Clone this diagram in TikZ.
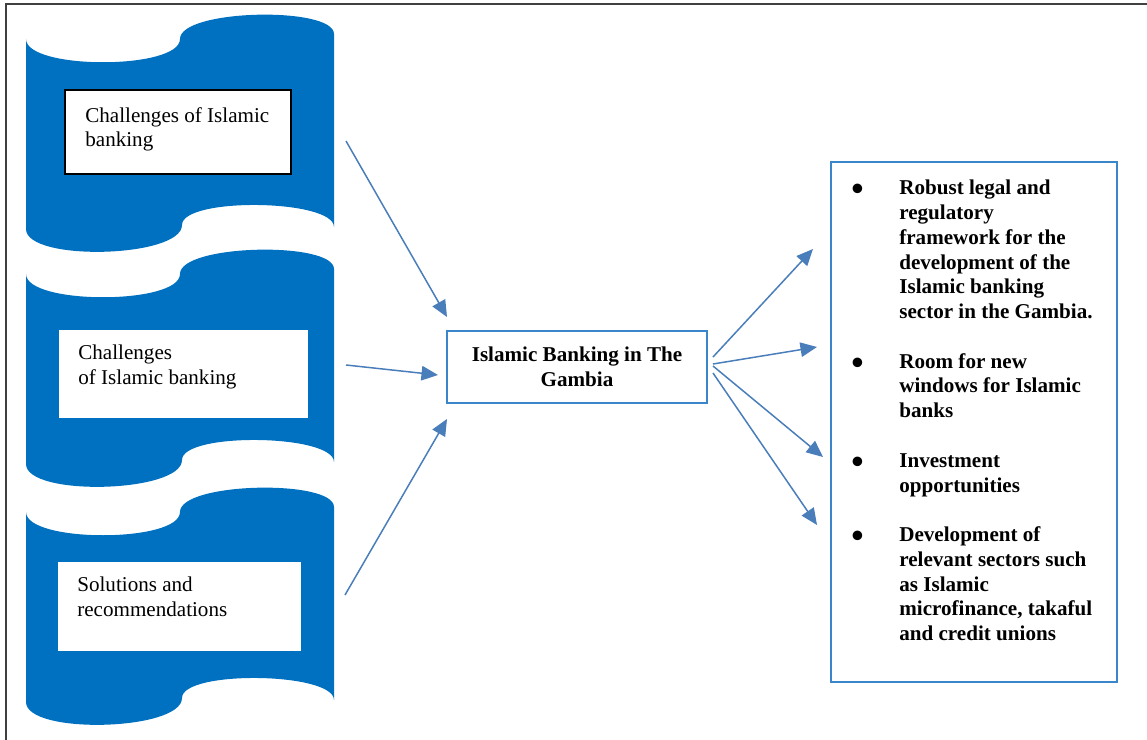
\documentclass[tikz,border=0pt]{standalone}
\usepackage{fontspec}
\setmainfont{Liberation Serif}
\usetikzlibrary{arrows.meta}
\definecolor{tapeblue}{HTML}{0070C0}
\definecolor{linkblue}{HTML}{4A7EBB}
\definecolor{edgeblue}{HTML}{3B86CB}
\definecolor{framegray}{HTML}{404040}
\newcommand{\txtfont}{\fontsize{12}{14}\selectfont}
\newcommand{\bigdot}{\smash{\raisebox{-3.5pt}{\fontsize{20}{14}\selectfont\textbullet}}}
\tikzset{
  tape/.style={fill=tapeblue,draw=none},
  wbox/.style={fill=white,inner sep=0pt},
  ltxt/.style={anchor=north west,inner sep=0pt,align=left,font=\txtfont},
  hubbox/.style={draw=edgeblue,fill=white,line width=0.8pt,inner sep=0pt,
    minimum width=5.2cm,minimum height=1.44cm,align=center,font=\txtfont\bfseries},
  outbox/.style={draw=edgeblue,fill=white,line width=0.8pt,inner sep=0pt,
    minimum width=5.72cm,minimum height=10.4cm},
  arr/.style={-{Triangle[length=3.3mm,width=2.9mm]},line width=0.85pt,draw=linkblue,fill=linkblue},
  frame/.style={draw=framegray,line width=1.1pt},
}
\begin{document}
\begin{tikzpicture}[x=0.2mm,y=-0.2mm]
  \useasboundingbox (0,0) rectangle (1147,740);
  \draw[frame] (6,745) -- (6,4) -- (1152,4);
  % the three blue tapes
  \foreach \ty in {39,274,512}{
    \fill[tape] (26,\ty) .. controls (26,\ty+31) and (180,\ty+31) .. (180,\ty)
      .. controls (180,\ty-30) and (334,\ty-33) .. (334,\ty-5)
      -- (334,\ty+188) .. controls (334,\ty+160) and (182,\ty+158) .. (182,\ty+186)
      .. controls (182,\ty+219) and (26,\ty+223) .. (26,\ty+190) -- cycle;
  }
  \node[wbox,draw=black,line width=0.6pt,minimum width=4.52cm,minimum height=1.68cm] (ch1) at (178,132) {};
  \node[ltxt] (ch1t) at (85,107) {Challenges of Islamic\\banking};
  \node[wbox,minimum width=4.98cm,minimum height=1.76cm] (ch2) at (183.5,374) {};
  \node[ltxt] (ch2t) at (78,345) {Challenges\\of Islamic banking};
  \node[wbox,minimum width=4.86cm,minimum height=1.78cm] (sol) at (179.5,606.5) {};
  \node[ltxt] (solt) at (77,577) {Solutions and\\recommendations};
  \node[hubbox] (hub) at (577,367) {Islamic Banking in The\\Gambia};
  \node[outbox] (out) at (974,422) {};
  \node[ltxt,font=\fontsize{12}{14.1}\selectfont\bfseries] (list) at (851,177) {%
    \begin{tabular}{@{}p{0.96cm}@{}l@{}}
      \bigdot & Robust legal and\\
       & regulatory\\
       & framework for the\\
       & development of the\\
       & Islamic banking\\
       & sector in the Gambia.\\[14.1pt]
      \bigdot & Room for new\\
       & windows for Islamic\\
       & banks\\[14.1pt]
      \bigdot & Investment\\
       & opportunities\\[14.1pt]
      \bigdot & Development of\\
       & relevant sectors such\\
       & as Islamic\\
       & microfinance, takaful\\
       & and credit unions
    \end{tabular}};
  % arrow ends
  \coordinate (c1) at (346,141); \coordinate (c2) at (346,365); \coordinate (c3) at (345,595);
  \coordinate (h1) at (447,317); \coordinate (h2) at (438,375); \coordinate (h3) at (447,419);
  \coordinate (r1) at (713,357); \coordinate (r2) at (713,364);
  \coordinate (r3) at (713,366); \coordinate (r4) at (713,373);
  \coordinate (o1) at (813,249); \coordinate (o2) at (817,347);
  \coordinate (o3) at (823,457); \coordinate (o4) at (817,525);
  \draw[arr] (c1) -- (h1); \draw[arr] (c2) -- (h2); \draw[arr] (c3) -- (h3);
  \draw[arr] (r1) -- (o1); \draw[arr] (r2) -- (o2);
  \draw[arr] (r3) -- (o3); \draw[arr] (r4) -- (o4);
\end{tikzpicture}
\end{document}
